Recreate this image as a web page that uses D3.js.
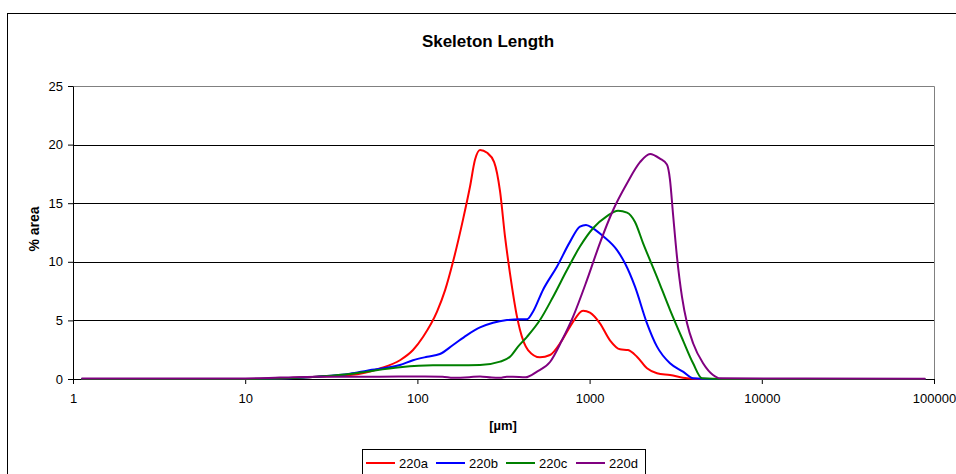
<!DOCTYPE html>
<html>
<head>
<meta charset="utf-8">
<script src="https://cdn.jsdelivr.net/npm/d3@7"></script>
<style>
  html, body { margin: 0; padding: 0; background: #fff; }
  svg { display: block; font-family: Arial, "Liberation Sans", sans-serif; }
</style>
</head>
<body>
<div id="chart"></div>
<script>
const chartTitle = "Skeleton Length";
const xAxisLabel = "[µm]";
const yAxisLabel = "% area";
const xTicks = [1, 10, 100, 1000, 10000, 100000];
const yTicks = [0, 5, 10, 15, 20, 25];
const seriesNames = ["220a", "220b", "220c", "220d"];
const seriesColors = ["#ff0000", "#0000ff", "#008000", "#800080"];

// skeleton length (µm) and % area
const size220a = [1.12, 10, 15.9, 26.1, 40.6, 60.6, 79.2, 94.3, 108, 130, 145, 161, 184, 202, 216, 231, 254, 279, 302, 323, 345, 379, 394, 439, 515, 589, 691, 791, 916, 1005, 1148, 1313, 1502, 1671, 1884, 2154, 2463, 2930, 3680, 4375, 10000, 89000];
const area220a = [0, 0, 0.05, 0.2, 0.34, 0.9, 1.6, 2.47, 3.6, 5.74, 7.6, 10.0, 13.6, 16.4, 18.7, 19.54, 19.3, 18.5, 16.0, 12.1, 9.0, 5.3, 4.2, 2.47, 1.85, 2.05, 3.3, 4.75, 5.83, 5.66, 4.75, 3.3, 2.53, 2.47, 1.9, 0.91, 0.49, 0.34, 0.06, 0, 0, 0];

const size220b = [1.12, 10, 15.9, 26.1, 40.6, 51.0, 79.2, 94.3, 114, 135, 161, 194, 231, 275, 331, 394, 433, 469, 536, 647, 769, 879, 953, 1047, 1196, 1443, 1605, 1835, 2154, 2463, 2930, 3485, 3990, 5000, 89000];
const area220b = [0, 0, 0.05, 0.2, 0.45, 0.71, 1.19, 1.6, 1.9, 2.13, 2.9, 3.75, 4.4, 4.8, 5.03, 5.1, 5.1, 5.74, 7.6, 9.6, 11.7, 13.0, 13.14, 12.86, 12.2, 11.0, 9.87, 7.88, 4.75, 2.76, 1.34, 0.63, 0.06, 0, 0];

const size220c = [1.12, 10, 15.9, 26.1, 40.6, 51.0, 79.2, 123, 170, 231, 302, 345, 384, 433, 515, 613, 739, 879, 1047, 1262, 1462, 1650, 1835, 2043, 2463, 2930, 3485, 3990, 4500, 6000, 89000];
const area220c = [0, 0, 0.05, 0.2, 0.42, 0.63, 1.0, 1.17, 1.17, 1.19, 1.48, 1.9, 2.76, 3.6, 5.03, 7.0, 9.3, 11.3, 12.86, 13.9, 14.36, 14.2, 13.4, 11.6, 8.7, 5.9, 3.3, 1.34, 0.06, 0, 0];

const size220d = [1.12, 10, 15.9, 26.1, 60, 100, 140, 161, 200, 231, 270, 302, 330, 359, 424, 495, 589, 691, 801, 966, 1148, 1368, 1650, 1962, 2244, 2563, 2812, 2930, 3050, 3218, 3440, 3680, 3990, 4560, 5210, 5720, 89000];
const area220d = [0.05, 0.05, 0.12, 0.2, 0.2, 0.22, 0.2, 0.1, 0.15, 0.22, 0.12, 0.1, 0.2, 0.2, 0.14, 0.63, 1.45, 3.3, 5.3, 8.45, 11.6, 14.4, 16.7, 18.5, 19.2, 18.8, 18.3, 17.0, 14.1, 10.4, 7.0, 4.75, 3.05, 1.34, 0.34, 0.06, 0.03];

const sizes = [size220a, size220b, size220c, size220d];
const areas = [area220a, area220b, area220c, area220d];
const series = seriesNames.map((name, i) => ({
  name: name,
  color: seriesColors[i],
  points: d3.zip(sizes[i], areas[i])
}));

const width = 956, height = 474;
const plot = { left: 73, right: 934, top: 86, bottom: 379 };

const svg = d3.select("#chart").append("svg")
  .attr("width", width)
  .attr("height", height);

// outer chart border (runs off the right and bottom edge)
svg.append("rect")
  .attr("x", 7.5).attr("y", 13.5)
  .attr("width", 960).attr("height", 500)
  .attr("fill", "#fff")
  .attr("stroke", "#000");

const x = d3.scaleLog().domain([1, 100000]).range([plot.left, plot.right]);
const y = d3.scaleLinear().domain([0, 25]).range([plot.bottom, plot.top]);

// plot area frame: grey top and right edge
svg.append("path")
  .attr("d", `M${plot.left},${plot.top + 0.5}H${plot.right + 0.5}V${plot.bottom}`)
  .attr("fill", "none")
  .attr("stroke", "#808080");

// gridlines
svg.append("g")
  .selectAll("line")
  .data(yTicks.filter(d => d > 0 && d < 25))
  .enter()
  .append("line")
  .attr("x1", plot.left)
  .attr("x2", plot.right)
  .attr("y1", d => Math.round(y(d)) + 0.5)
  .attr("y2", d => Math.round(y(d)) + 0.5)
  .attr("stroke", "#000");

// axes
const yAxis = svg.append("g")
  .attr("transform", `translate(${plot.left},0)`)
  .call(d3.axisLeft(y).tickValues(yTicks).tickSize(5).tickSizeOuter(0).tickPadding(5));

const xAxis = svg.append("g")
  .attr("transform", `translate(0,${plot.bottom})`)
  .call(d3.axisBottom(x).tickValues(xTicks).tickFormat(d3.format("d")).tickSize(5).tickSizeOuter(0).tickPadding(10));

[xAxis, yAxis].forEach(g => {
  g.selectAll("path, line").attr("stroke", "#000");
  g.selectAll("text")
    .attr("fill", "#000")
    .style("font-size", "13px")
    .style("font-family", "Arial, 'Liberation Sans', sans-serif");
});

// series lines
const line = d3.line()
  .x(d => x(d[0]))
  .y(d => y(d[1]))
  .curve(d3.curveMonotoneX);

svg.append("g")
  .selectAll("path")
  .data(series)
  .enter()
  .append("path")
  .attr("d", d => line(d.points))
  .attr("fill", "none")
  .attr("stroke", d => d.color)
  .attr("stroke-width", 2)
  .attr("stroke-linejoin", "round");

// titles
svg.append("text")
  .attr("x", 488).attr("y", 41)
  .attr("text-anchor", "middle")
  .attr("dominant-baseline", "central")
  .style("font-size", "17px")
  .style("font-weight", "bold")
  .text(chartTitle);

svg.append("text")
  .attr("x", 503).attr("y", 425)
  .attr("text-anchor", "middle")
  .attr("dominant-baseline", "central")
  .style("font-size", "13px")
  .style("font-weight", "bold")
  .text(xAxisLabel);

svg.append("text")
  .attr("transform", "translate(34,229) rotate(-90)")
  .attr("text-anchor", "middle")
  .attr("dominant-baseline", "central")
  .style("font-size", "14px")
  .style("font-weight", "bold")
  .text(yAxisLabel);

// legend
const legend = svg.append("g");
legend.append("rect")
  .attr("x", 362.5).attr("y", 449.5)
  .attr("width", 283).attr("height", 40)
  .attr("fill", "#fff")
  .attr("stroke", "#000");

const item = legend.selectAll(".item")
  .data(series)
  .enter()
  .append("g")
  .attr("class", "item")
  .attr("transform", (d, i) => `translate(${366 + i * 70},463)`);

item.append("line")
  .attr("x1", 0).attr("x2", 29)
  .attr("stroke", d => d.color)
  .attr("stroke-width", 2);

item.append("text")
  .attr("x", 33)
  .attr("dominant-baseline", "central")
  .style("font-size", "13px")
  .text(d => d.name);
</script>
</body>
</html>
